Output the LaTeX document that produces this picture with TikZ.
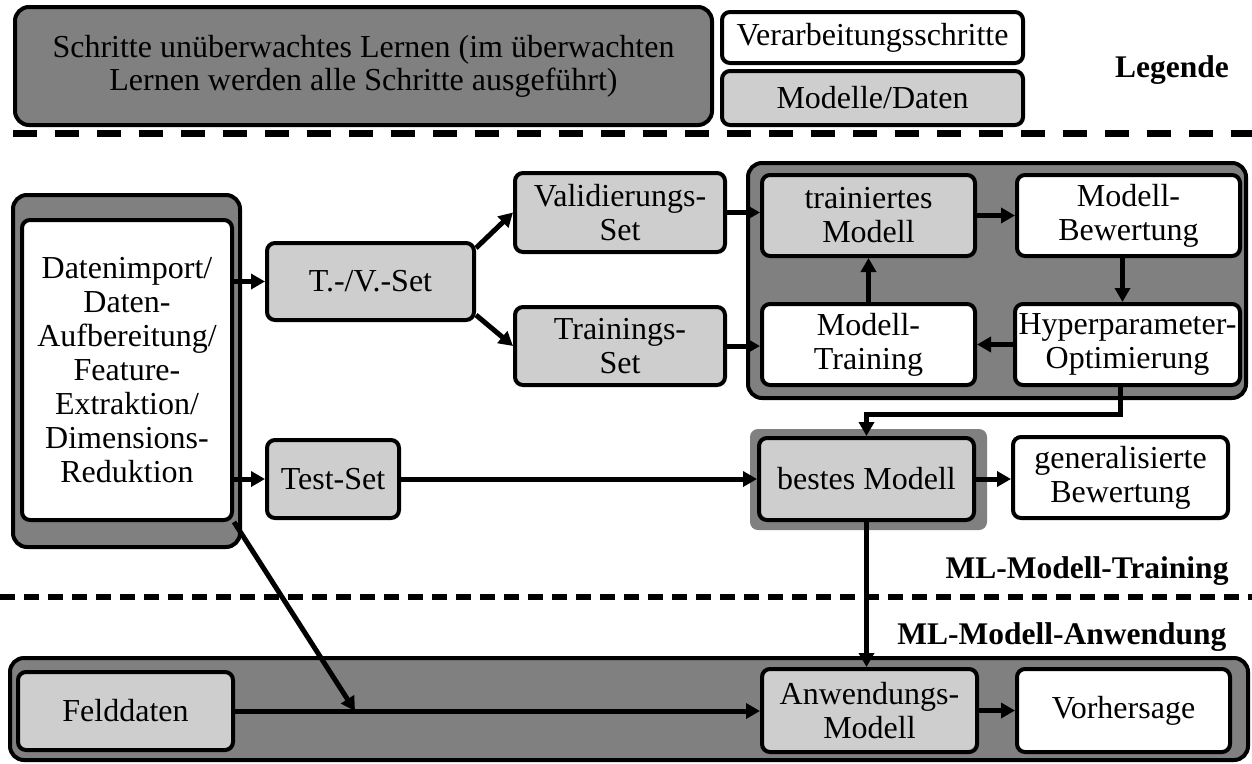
\documentclass[tikz,border=0pt]{standalone}
\usepackage{fontspec}
\setmainfont{Liberation Serif}
\usetikzlibrary{arrows.meta}

\definecolor{grpgray}{RGB}{128,128,128}
\definecolor{datagray}{RGB}{206,206,206}

\begin{document}
\begin{tikzpicture}[
    x=1pt, y=-1pt,
    every node/.style={font=\fontsize{32}{34}\selectfont},
    basebox/.style={draw, line width=4pt, rounded corners=8pt, inner sep=0pt, align=center},
    procbox/.style={basebox, fill=white},
    databox/.style={basebox, fill=datagray},
    grpbox/.style={draw, line width=4pt, rounded corners=14pt, fill=grpgray, inner sep=0pt},
    haloBox/.style={fill=grpgray, rounded corners=8pt, inner sep=0pt},
    lbl/.style={font=\fontsize{31.5}{34}\selectfont\bfseries},
    arr/.style={line width=5pt, -{Triangle[length=14pt,width=15pt]}},
    sepline/.style={line width=7pt, dash pattern=on 24pt off 18pt},
    sepfine/.style={line width=6pt, dash pattern=on 15pt off 9pt}
]
\useasboundingbox (0,0) rectangle (1252,763);

% ---- legend ----
\node[grpbox, align=center, minimum width=697pt, minimum height=118pt,
      font=\fontsize{32}{33}\selectfont] (legU) at (363.5,66)
  {Schritte unüberwachtes Lernen (im überwachten\\Lernen werden alle Schritte ausgeführt)};
\node[procbox, minimum width=301pt, minimum height=51pt] (legV) at (872.5,37.5) {Verarbeitungsschritte};
\node[databox, minimum width=301pt, minimum height=54pt] (legM) at (872.5,98) {Modelle/Daten};
\node[lbl] (legT) at (1172,70) {Legende};

% ---- section separators ----
\draw[sepline] (13,133) -- (1252,133);
\draw[sepfine] (0,597) -- (1252,597);

% ---- group backgrounds ----
\node[grpbox, minimum width=227pt, minimum height=352pt] (prepgrp) at (126.5,371) {};
\node[grpbox, minimum width=498pt, minimum height=235pt] (traingrp) at (997,280.5) {};
\node[haloBox, minimum width=237pt, minimum height=101pt] (besthalo) at (868.5,479.5) {};
\node[grpbox, minimum width=1238pt, minimum height=102pt] (appgrp) at (629,709) {};

% ---- training part ----
\node[procbox, minimum width=210pt, minimum height=300pt] (prep) at (127,370)
  {Datenimport/\\Daten-\\Aufbereitung/\\Feature-\\Extraktion/\\Dimensions-\\Reduktion};
\node[databox, minimum width=207pt, minimum height=77pt] (tv) at (370.5,281.5) {T.-/V.-Set};
\node[databox, minimum width=132pt, minimum height=78pt] (test) at (333,479) {Test-Set};
\node[databox, minimum width=210pt, minimum height=79pt] (val) at (620,212.5) {Validierungs-\\Set};
\node[databox, minimum width=210pt, minimum height=78pt] (trn) at (620,346) {Trainings-\\Set};
\node[databox, minimum width=213pt, minimum height=81pt] (tm) at (868.5,215.5) {trainiertes\\Modell};
\node[procbox, minimum width=223pt, minimum height=81pt] (mb) at (1128.5,215.5) {Modell-\\Bewertung};
\node[procbox, minimum width=213pt, minimum height=81pt] (mt) at (868.5,344.5) {Modell-\\Training};
\node[procbox, minimum width=225pt, minimum height=81pt] (hp) at (1127.5,344.5) {Hyperparameter-\\Optimierung};
\node[databox, minimum width=215pt, minimum height=82pt] (best) at (866.5,479) {bestes Modell};
\node[procbox, minimum width=215pt, minimum height=81pt] (gen) at (1120.5,477.5) {generalisierte\\Bewertung};
\node[lbl, anchor=east] (lblTrain) at (1232,571) {ML-Modell-Training};

% ---- application part ----
\node[lbl, anchor=east] (lblApp) at (1230,637) {ML-Modell-Anwendung};
\node[databox, minimum width=215pt, minimum height=78pt] (feld) at (125.5,711) {Felddaten};
\node[databox, minimum width=215pt, minimum height=83pt] (anw) at (869.5,710.5) {Anwendungs-\\Modell};
\node[procbox, minimum width=213pt, minimum height=83pt] (vor) at (1123.5,710.5) {Vorhersage};
\coordinate (merge) at (355,711);

% ---- connectors ----
\draw[arr] (prep.east |- tv.west) -- (tv.west);
\draw[arr] (prep.east |- test.west) -- (test.west);
\draw[arr] ([yshift=-7pt]tv.north east) -- (val.west);
\draw[arr] ([yshift=7pt]tv.south east) -- (trn.west);
\draw[arr] (val.east) -- (val.east -| tm.west);
\draw[arr] (trn.east) -- (trn.east -| mt.west);
\draw[arr] (tm.east) -- (tm.east -| mb.west);
\draw[arr] ([xshift=-6pt]mb.south) -- ([xshift=-6pt]mb.south |- hp.north);
\draw[arr] (hp.west) -- (hp.west -| mt.east);
\draw[arr] (mt.north) -- (tm.south);
\draw[arr] ([xshift=-7pt]hp.south) -- ([xshift=-7pt,yshift=-27pt]hp.south) -| (best.north);
\draw[arr] (test.east) -- (test.east -| best.west);
\draw[arr] (best.east) -- (best.east -| gen.west);
\draw[arr] (best.south) -- (best.south |- anw.north);
\draw[arr] (feld.east) -- (feld.east -| anw.west);
\draw[arr] (prep.south east) -- (merge);
\draw[arr] (anw.east) -- (anw.east -| vor.west);
\end{tikzpicture}
\end{document}
